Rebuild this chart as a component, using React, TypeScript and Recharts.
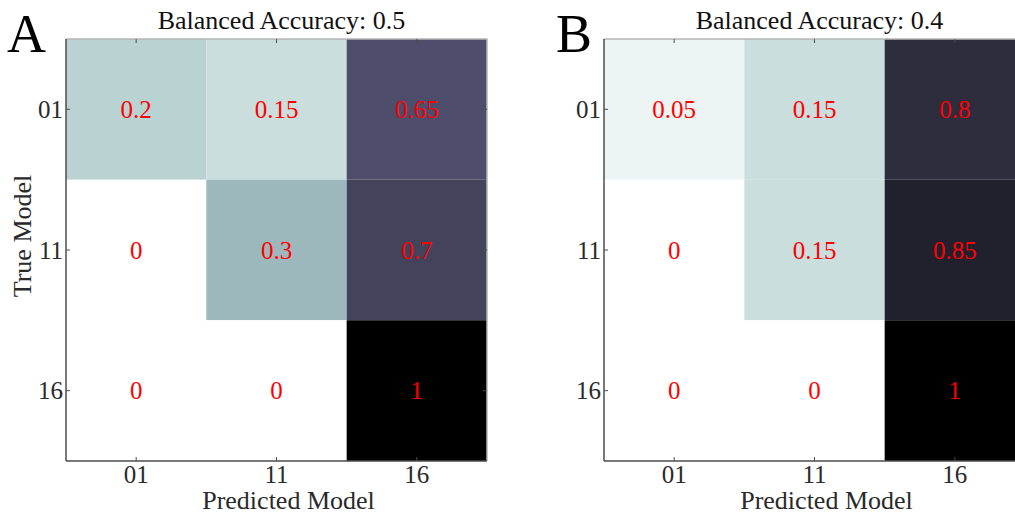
import React from "react";
import {
  ComposedChart,
  XAxis,
  YAxis,
  Scatter,
  ReferenceArea,
  Label,
} from "recharts";

// ---------- data ----------
const predictedModels = ["01", "11", "16"];
const trueModels = ["01", "11", "16"];

const matrixA_row01 = [0.2, 0.15, 0.65];
const matrixA_row11 = [0, 0.3, 0.7];
const matrixA_row16 = [0, 0, 1];

const matrixB_row01 = [0.05, 0.15, 0.8];
const matrixB_row11 = [0, 0.15, 0.85];
const matrixB_row16 = [0, 0, 1];

const balancedAccuracyA = 0.5;
const balancedAccuracyB = 0.4;

const matrixA = [matrixA_row01, matrixA_row11, matrixA_row16];
const matrixB = [matrixB_row01, matrixB_row11, matrixB_row16];

// ---------- helpers ----------
const FONT = "'Liberation Serif', 'DejaVu Serif', serif";
const clamp = (v: number) => Math.max(0, Math.min(1, v));

// reversed "bone" colormap
function boneReversed(v: number) {
  const t = 1 - v;
  const r = (7 * t + clamp((t - 0.75) / 0.25)) / 8;
  const g = (7 * t + clamp((t - 0.375) / 0.375)) / 8;
  const b = (7 * t + clamp(t / 0.375)) / 8;
  const h = (x: number) => Math.round(x * 255).toString(16).padStart(2, "0");
  return `#${h(r)}${h(g)}${h(b)}`;
}

function buildCells(matrix: number[][]) {
  const cells: { x: number; y: number; v: number }[] = [];
  trueModels.forEach((_, r) => {
    predictedModels.forEach((__, c) => {
      cells.push({ x: c + 1, y: r + 1, v: matrix[r][c] });
    });
  });
  return cells;
}

const idx = [1, 2, 3];
const AX = "#4d4d4d";
const AX_LIGHT = "#b5b5b5";
const TXT = "#2a2a2a";
const fontStyle = (size: number) => ({ fontFamily: FONT, fontSize: size });

const BottomTick = (props: any) => {
  const { x, y, payload } = props;
  return (
    <g>
      <line x1={x} y1={y} x2={x} y2={y - 4} stroke={AX} strokeWidth={1} />
      <text x={x} y={y + 22} textAnchor="middle" style={fontStyle(25)} fill={TXT}>
        {predictedModels[payload.value - 1]}
      </text>
    </g>
  );
};

const LeftTick = (props: any) => {
  const { x, y, payload } = props;
  return (
    <g>
      <line x1={x} y1={y} x2={x + 4} y2={y} stroke={AX} strokeWidth={1} />
      <text
        x={x - 3}
        y={y}
        dy="0.35em"
        textAnchor="end"
        style={fontStyle(25)}
        fill={TXT}
      >
        {trueModels[payload.value - 1]}
      </text>
    </g>
  );
};

const CellText = (props: any) => {
  const { cx, cy, payload } = props;
  return (
    <text
      x={cx}
      y={cy}
      dy="0.35em"
      textAnchor="middle"
      style={fontStyle(25)}
      fill="#ff0000"
    >
      {String(payload.v)}
    </text>
  );
};

// frame: top + right box lines with inward ticks, title and panel letter
function makeFrame(letter: string, letterDx: number, accuracy: number) {
  return (props: any) => {
    const { x, y, width, height } = props;
    const n = predictedModels.length;
    const m = trueModels.length;
    const topTicks = predictedModels.map((_, i) => x + (width * (i + 0.5)) / n);
    const rightTicks = trueModels.map((_, i) => y + (height * (i + 0.5)) / m);
    return (
      <g>
        <path
          d={`M${x},${y} L${x + width},${y} L${x + width},${y + height}`}
          fill="none"
          stroke={AX_LIGHT}
          strokeWidth={1.5}
        />
        {topTicks.map((tx, i) => (
          <line key={`t${i}`} x1={tx} y1={y} x2={tx} y2={y + 4} stroke={AX} strokeWidth={1} />
        ))}
        {rightTicks.map((ty, i) => (
          <line
            key={`r${i}`}
            x1={x + width}
            y1={ty}
            x2={x + width - 4}
            y2={ty}
            stroke={AX}
            strokeWidth={1}
          />
        ))}
        <text
          x={x + width / 2 + 5}
          y={y - 10}
          textAnchor="middle"
          style={fontStyle(26)}
          fill="#111"
        >
          {`Balanced Accuracy: ${accuracy}`}
        </text>
        <text
          x={x + letterDx}
          y={y + 13}
          textAnchor="start"
          style={fontStyle(54)}
          fill="#000"
        >
          {letter}
        </text>
      </g>
    );
  };
}

type PanelProps = {
  letter: string;
  letterDx: number;
  matrix: number[][];
  accuracy: number;
  width: number;
  marginLeft: number;
  marginRight: number;
  showYLabel: boolean;
};

function Panel({
  letter,
  letterDx,
  matrix,
  accuracy,
  width,
  marginLeft,
  marginRight,
  showYLabel,
}: PanelProps) {
  const cells = buildCells(matrix);
  return (
    <ComposedChart
      width={width}
      height={515}
      margin={{ top: 39, right: marginRight, bottom: 14, left: marginLeft }}
      data={cells}
    >
      <XAxis
        xAxisId={0}
        dataKey="x"
        type="number"
        domain={[0.5, 3.5]}
        ticks={idx}
        height={40}
        tickSize={0}
        tickMargin={0}
        tickLine={false}
        axisLine={{ stroke: AX, strokeWidth: 1.5 }}
        tick={<BottomTick />}
        interval={0}
      >
        <Label
          content={(p: any) => {
            const vb = p.viewBox;
            return (
              <text
                x={vb.x + vb.width / 2 + 12}
                y={vb.y + 48}
                textAnchor="middle"
                style={fontStyle(26)}
                fill={TXT}
              >
                Predicted Model
              </text>
            );
          }}
        />
      </XAxis>
      <YAxis
        yAxisId={0}
        dataKey="y"
        type="number"
        domain={[0.5, 3.5]}
        reversed
        ticks={idx}
        width={60}
        tickSize={0}
        tickMargin={0}
        tickLine={false}
        axisLine={{ stroke: AX, strokeWidth: 1.5 }}
        tick={<LeftTick />}
        interval={0}
      >
        {showYLabel && (
          <Label
            content={(p: any) => {
              const vb = p.viewBox;
              const cx = vb.x + 16;
              const cy = vb.y + vb.height / 2 - 14;
              return (
                <text
                  x={cx}
                  y={cy}
                  transform={`rotate(-90 ${cx} ${cy})`}
                  textAnchor="middle"
                  dy="0.35em"
                  style={fontStyle(26)}
                  fill={TXT}
                >
                  True Model
                </text>
              );
            }}
          />
        )}
      </YAxis>
      {cells.map((c, i) => (
        <ReferenceArea
          key={i}
          xAxisId={0}
          yAxisId={0}
          x1={c.x - 0.5}
          x2={c.x + 0.5}
          y1={c.y - 0.5}
          y2={c.y + 0.5}
          fill={boneReversed(c.v)}
          fillOpacity={1}
          stroke="none"
          ifOverflow="visible"
        />
      ))}
      <ReferenceArea
        xAxisId={0}
        yAxisId={0}
        x1={0.5}
        x2={3.5}
        y1={0.5}
        y2={3.5}
        ifOverflow="visible"
        shape={makeFrame(letter, letterDx, accuracy)}
      />
      <Scatter
        xAxisId={0}
        yAxisId={0}
        data={cells}
        dataKey="y"
        isAnimationActive={false}
        shape={<CellText />}
      />
    </ComposedChart>
  );
}

export default function App() {
  return (
    <div
      style={{
        position: "absolute",
        left: 0,
        top: 0,
        width: 1015,
        height: 515,
        overflow: "hidden",
        background: "#fff",
      }}
    >
      <div style={{ position: "absolute", left: 0, top: 0 }}>
        <Panel
          letter="A"
          letterDx={-59}
          matrix={matrixA}
          accuracy={balancedAccuracyA}
          width={520}
          marginLeft={6}
          marginRight={33}
          showYLabel={true}
        />
      </div>
      <div style={{ position: "absolute", left: 520, top: 0 }}>
        <Panel
          letter="B"
          letterDx={-48}
          matrix={matrixB}
          accuracy={balancedAccuracyB}
          width={510}
          marginLeft={24}
          marginRight={5}
          showYLabel={false}
        />
      </div>
    </div>
  );
}
